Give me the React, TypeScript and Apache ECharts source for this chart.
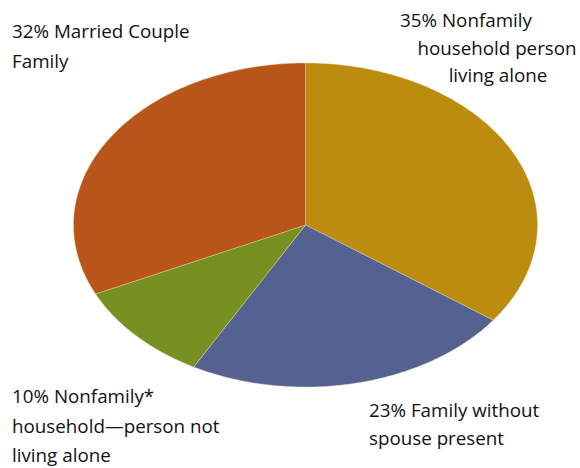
import React, { useEffect, useRef } from "react";
import * as echarts from "echarts";

const categories = [
  "Nonfamily household person living alone",
  "Family without spouse present",
  "Nonfamily* household—person not living alone",
  "Married Couple Family",
];
const values = [35, 23, 10, 32];
const colors = ["#BC8C0E", "#546292", "#789022", "#B8561A"];
const labelLines: string[][] = [
  ["35% Nonfamily", "household person", "living alone"],
  ["23% Family without", "spouse present"],
  ["10% Nonfamily*", "household\u2014person not", "living alone"],
  ["32% Married Couple", "Family"],
];

const labelLayout: { xs: number[]; y: number; lh: number; align: string }[] = [
  { xs: [466, 497, 498], y: 27, lh: 27.5, align: "center" },
  { xs: [369, 369], y: 417, lh: 28, align: "left" },
  { xs: [12, 12, 12], y: 403, lh: 29.5, align: "left" },
  { xs: [12, 12], y: 38, lh: 30, align: "left" },
];

const CX = 305.5;
const CY = 225;
const RX = 232;
const RY = 162;
const FONT = "Open Sans";
const FS = 18.8;

export default function App() {
  const ref = useRef<HTMLDivElement>(null);
  useEffect(() => {
    if (!ref.current) return;
    const chart = echarts.init(ref.current, null, { renderer: "svg" });
    const total = values.reduce((a, b) => a + b, 0);
    const graphics: any[] = [];
    labelLines.forEach((lines, i) => {
      const L = labelLayout[i];
      lines.forEach((t, j) => {
        graphics.push({
          type: "text",
          x: L.xs[j],
          y: L.y + j * L.lh - 7,
          style: {
            text: t,
            fill: "#111111",
            fontFamily: FONT,
            fontSize: FS,
            align: L.align,
            verticalAlign: "middle",
          },
        });
      });
    });
    chart.setOption({
      animation: false,
      backgroundColor: "#ffffff",
      graphic: graphics,
      series: [
        {
          type: "custom",
          coordinateSystem: "none",
          data: values.map((v, i) => ({ value: v, name: categories[i] })),
          renderItem: (params: any, api: any) => {
            const i = params.dataIndex;
            let before = 0;
            for (let k = 0; k < i; k++) before += values[k];
            const a0 = (before / total) * Math.PI * 2;
            const a1 = ((before + values[i]) / total) * Math.PI * 2;
            const N = 120;
            const pts: number[][] = [[CX, CY]];
            for (let k = 0; k <= N; k++) {
              const t = a0 + ((a1 - a0) * k) / N;
              pts.push([CX + RX * Math.sin(t), CY - RY * Math.cos(t)]);
            }
            return {
              type: "polygon",
              shape: { points: pts },
              style: { fill: colors[i], stroke: "#e8d8b0", lineWidth: 0.4 },
            };
          },
        },
      ],
    });
    return () => chart.dispose();
  }, []);
  return (
    <div
      ref={ref}
      style={{ position: "fixed", left: 0, top: 0, width: 580, height: 468 }}
    />
  );
}
